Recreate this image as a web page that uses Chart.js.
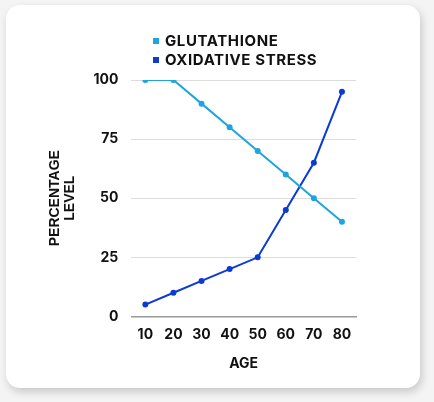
<!DOCTYPE html>
<html>
<head>
<meta charset="utf-8">
<script src="https://cdn.jsdelivr.net/npm/chart.js@4"></script>
<style>
  html, body { margin: 0; padding: 0; background: #f4f4f4; }
  body { width: 434px; height: 402px; position: relative; overflow: hidden; }
  .card {
    position: absolute; left: 6px; top: 5px; width: 414px; height: 383px;
    background: #fff; border-radius: 14px;
    box-shadow: 2px 4px 8px rgba(0,0,0,0.18);
  }
  #chart { position: absolute; left: 0; top: 0; }
  #legend {
    position: absolute; left: 153px; top: 31px;
    font-family: Inter, sans-serif; font-weight: 700; font-size: 15px;
    letter-spacing: 0.6px; color: #111;
  }
  #legend div { height: 19px; line-height: 19px; }
  #legend span.box {
    display: inline-block; width: 6px; height: 6px; margin-right: 6px;
    vertical-align: middle; position: relative; top: -1px;
  }
</style>
</head>
<body>
<div class="card"></div>
<canvas id="chart" width="434" height="402"></canvas>
<div id="legend"></div>
<script>
var ages = ['10', '20', '30', '40', '50', '60', '70', '80'];
var glutathione = [100, 100, 90, 80, 70, 60, 50, 40];
var oxidativeStress = [5, 10, 15, 20, 25, 45, 65, 95];
var yTicks = [0, 25, 50, 75, 100];

var tickFont = { family: 'Inter', weight: '700', size: 14 };

var chart = new Chart(document.getElementById('chart').getContext('2d'), {
    type: 'line',
    data: {
        labels: ages,
        datasets: [{
            label: 'GLUTATHIONE',
            data: glutathione,
            borderColor: '#1ea5dd',
            backgroundColor: '#1ea5dd',
            borderWidth: 2,
            pointRadius: 2,
            tension: 0
        }, {
            label: 'OXIDATIVE STRESS',
            data: oxidativeStress,
            borderColor: '#0b3ad4',
            backgroundColor: '#0b3ad4',
            borderWidth: 2,
            pointRadius: 2,
            tension: 0
        }]
    },
    options: {
        responsive: false,
        animation: false,
        layout: { padding: { left: 44, right: 78, top: 80, bottom: 26 } },
        plugins: {
            legend: { display: false },
            tooltip: { enabled: false }
        },
        scales: {
            x: {
                offset: true,
                grid: { display: false },
                border: { color: '#999', width: 1.5 },
                ticks: { color: '#111', font: tickFont, padding: 2 },
                title: {
                    display: true, text: 'AGE', color: '#111',
                    font: { family: 'Inter', weight: '700', size: 14 },
                    padding: { top: 10 }
                }
            },
            y: {
                min: 0, max: 100,
                afterBuildTicks: function(axis) {
                    axis.ticks = yTicks.map(function(v) { return { value: v }; });
                },
                grid: { color: '#dcdcdc', drawTicks: false },
                border: { display: false },
                ticks: { color: '#111', font: tickFont, padding: 13 },
                title: {
                    display: true, text: ['PERCENTAGE', 'LEVEL'], color: '#111',
                    font: { family: 'Liberation Sans', weight: '700', size: 14, lineHeight: 1.05 },
                    padding: { bottom: 3 }
                }
            }
        }
    }
});

// stacked legend, one item per line
var legend = document.getElementById('legend');
chart.data.datasets.forEach(function(ds) {
    var row = document.createElement('div');
    var box = document.createElement('span');
    box.className = 'box';
    box.style.background = ds.borderColor;
    row.appendChild(box);
    row.appendChild(document.createTextNode(ds.label));
    legend.appendChild(row);
});
</script>
</body>
</html>
